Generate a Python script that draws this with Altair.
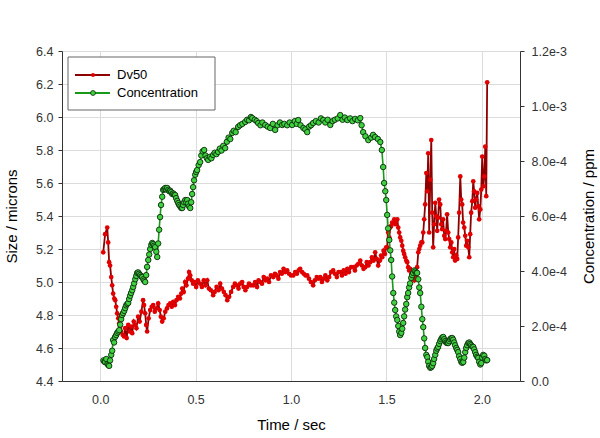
import altair as alt
import pandas as pd

# ---- Dv50 (left axis, microns) ----
dv_t = [0.016, 0.026, 0.037, 0.042, 0.047, 0.052, 0.058, 0.063, 0.068, 0.074, 0.079, 0.084, 0.089, 0.095,
        0.100, 0.105, 0.110, 0.118, 0.125, 0.131, 0.139, 0.147, 0.155, 0.162, 0.168, 0.176, 0.183, 0.190,
        0.199, 0.207, 0.216, 0.225, 0.230, 0.236, 0.241, 0.246, 0.254, 0.262, 0.270, 0.278, 0.286, 0.295,
        0.304, 0.312, 0.318, 0.325, 0.333, 0.341, 0.350, 0.358, 0.367, 0.375, 0.383, 0.392, 0.400, 0.409,
        0.418, 0.425, 0.430, 0.438, 0.445, 0.452, 0.460, 0.466, 0.472, 0.480, 0.487, 0.495, 0.503, 0.512,
        0.524, 0.533, 0.543, 0.552, 0.561, 0.570, 0.580, 0.592, 0.600, 0.610, 0.620, 0.629, 0.638, 0.648,
        0.657, 0.666, 0.676, 0.686, 0.697, 0.706, 0.716, 0.725, 0.734, 0.744, 0.752, 0.761, 0.770, 0.780,
        0.790, 0.802, 0.812, 0.822, 0.830, 0.839, 0.848, 0.857, 0.866, 0.875, 0.885, 0.895, 0.907, 0.916,
        0.925, 0.934, 0.943, 0.952, 0.961, 0.970, 0.980, 0.990, 1.000, 1.012, 1.022, 1.031, 1.040, 1.048,
        1.058, 1.067, 1.076, 1.085, 1.094, 1.104, 1.116, 1.125, 1.135, 1.144, 1.153, 1.162, 1.171, 1.180,
        1.190, 1.200, 1.210, 1.221, 1.230, 1.240, 1.249, 1.258, 1.267, 1.276, 1.286, 1.295, 1.304, 1.315,
        1.326, 1.335, 1.344, 1.353, 1.363, 1.372, 1.380, 1.389, 1.397, 1.406, 1.415, 1.424, 1.433, 1.441,
        1.449, 1.457, 1.466, 1.472, 1.478, 1.485, 1.492, 1.499, 1.504, 1.509, 1.515, 1.520, 1.525, 1.530,
        1.536, 1.541, 1.546, 1.551, 1.557, 1.562, 1.567, 1.572, 1.578, 1.583, 1.588, 1.593, 1.598, 1.604,
        1.609, 1.614, 1.619, 1.624, 1.630, 1.635, 1.640, 1.646, 1.651, 1.656, 1.661, 1.667, 1.672, 1.677,
        1.683, 1.688, 1.693, 1.698, 1.703, 1.709, 1.714, 1.719, 1.724, 1.730, 1.735, 1.740, 1.745, 1.750,
        1.756, 1.761, 1.766, 1.771, 1.776, 1.782, 1.787, 1.792, 1.797, 1.803, 1.808, 1.813, 1.818, 1.824,
        1.829, 1.834, 1.840, 1.845, 1.850, 1.855, 1.860, 1.866, 1.871, 1.876, 1.881, 1.887, 1.892, 1.897,
        1.902, 1.908, 1.913, 1.918, 1.923, 1.929, 1.934, 1.939, 1.944, 1.950, 1.955, 1.960, 1.965, 1.970,
        1.976, 1.981, 1.986, 1.992, 1.997, 2.002, 2.008, 2.013, 2.018, 2.023, 2.028]
dv_v = [5.18, 5.29, 5.33, 5.24, 5.12, 5.10, 5.03, 4.98, 4.93, 4.90, 4.89, 4.85, 4.81, 4.78,
        4.75, 4.73, 4.70, 4.68, 4.67, 4.72, 4.66, 4.74, 4.70, 4.73, 4.69, 4.76, 4.74, 4.72,
        4.79, 4.76, 4.82, 4.89, 4.86, 4.81, 4.74, 4.70, 4.78, 4.83, 4.85, 4.86, 4.82, 4.84,
        4.87, 4.83, 4.79, 4.76, 4.78, 4.82, 4.84, 4.86, 4.87, 4.85, 4.88, 4.86, 4.89, 4.91,
        4.90, 4.93, 4.96, 4.94, 5.00, 4.98, 5.02, 5.06, 5.04, 5.01, 4.99, 5.00, 4.97, 5.01,
        4.99, 4.97, 5.01, 4.98, 5.01, 4.96, 4.95, 4.92, 4.94, 4.97, 4.95, 4.99, 4.96, 4.94,
        4.92, 4.89, 4.91, 4.94, 4.97, 4.99, 4.98, 4.96, 4.99, 5.00, 4.97, 4.95, 4.97, 4.99,
        4.98, 4.98, 5.00, 4.97, 5.01, 5.00, 4.99, 5.03, 5.01, 5.02, 5.00, 5.04, 5.03, 5.05,
        5.04, 5.02, 5.06, 5.05, 5.08, 5.06, 5.07, 5.05, 5.04, 5.04, 5.06, 5.05, 5.07, 5.08,
        5.06, 5.05, 5.04, 5.04, 5.02, 5.00, 4.98, 5.01, 5.03, 5.02, 5.03, 5.00, 5.02, 5.04,
        5.01, 5.03, 5.06, 5.07, 5.05, 5.03, 5.06, 5.06, 5.04, 5.07, 5.05, 5.08, 5.06, 5.09,
        5.09, 5.07, 5.10, 5.11, 5.13, 5.10, 5.08, 5.09, 5.12, 5.10, 5.12, 5.15, 5.13, 5.18,
        5.14, 5.10, 5.13, 5.16, 5.15, 5.19, 5.17, 5.21, 5.21, 5.30, 5.27, 5.33, 5.34, 5.36,
        5.36, 5.38, 5.35, 5.37, 5.38, 5.33, 5.30, 5.27, 5.25, 5.22, 5.19, 5.17, 5.15, 5.13,
        5.12, 5.09, 5.07, 5.08, 5.05, 5.06, 5.03, 5.01, 5.04, 5.06, 5.09, 5.18, 5.20, 5.22,
        5.24, 5.24, 5.30, 5.38, 5.47, 5.66, 5.55, 5.78, 5.30, 5.62, 5.86, 5.42, 5.21, 5.35,
        5.48, 5.40, 5.31, 5.39, 5.50, 5.47, 5.35, 5.32, 5.38, 5.28, 5.26, 5.31, 5.41, 5.30,
        5.26, 5.21, 5.24, 5.18, 5.15, 5.20, 5.13, 5.16, 5.14, 5.27, 5.42, 5.64, 5.50, 5.47,
        5.36, 5.33, 5.28, 5.22, 5.25, 5.21, 5.15, 5.29, 5.42, 5.49, 5.61, 5.55, 5.45, 5.50,
        5.54, 5.46, 5.38, 5.44, 5.56, 5.76, 5.58, 5.64, 5.82, 5.52, 6.21]

# ---- Concentration (right axis, in units of 1e-4 ppm) ----
cn_t = [0.017, 0.022, 0.026, 0.032, 0.038, 0.043, 0.047, 0.052, 0.058, 0.063,
        0.068, 0.073, 0.078, 0.084, 0.089, 0.095, 0.100, 0.105, 0.110, 0.115,
        0.120, 0.126, 0.131, 0.136, 0.142, 0.147, 0.152, 0.157, 0.162, 0.168,
        0.173, 0.178, 0.184, 0.189, 0.194, 0.199, 0.204, 0.210, 0.215, 0.220,
        0.226, 0.231, 0.236, 0.241, 0.246, 0.252, 0.257, 0.262, 0.268, 0.273,
        0.278, 0.283, 0.288, 0.294, 0.299, 0.304, 0.309, 0.314, 0.319, 0.325,
        0.330, 0.336, 0.341, 0.346, 0.351, 0.357, 0.362, 0.367, 0.372, 0.378,
        0.383, 0.388, 0.393, 0.398, 0.404, 0.409, 0.414, 0.420, 0.425, 0.430,
        0.435, 0.440, 0.446, 0.451, 0.456, 0.461, 0.466, 0.472, 0.477, 0.482,
        0.487, 0.492, 0.498, 0.503, 0.508, 0.516, 0.524, 0.530, 0.537, 0.545,
        0.552, 0.559, 0.566, 0.575, 0.583, 0.592, 0.600, 0.609, 0.618, 0.627,
        0.636, 0.645, 0.655, 0.664, 0.673, 0.682, 0.692, 0.700, 0.710, 0.723,
        0.733, 0.745, 0.760, 0.770, 0.780, 0.790, 0.797, 0.810, 0.820, 0.828,
        0.840, 0.850, 0.865, 0.878, 0.891, 0.905, 0.917, 0.930, 0.942, 0.954,
        0.965, 0.980, 0.993, 1.006, 1.020, 1.030, 1.038, 1.050, 1.065, 1.075,
        1.085, 1.095, 1.105, 1.116, 1.130, 1.145, 1.157, 1.169, 1.180, 1.192,
        1.206, 1.218, 1.230, 1.245, 1.258, 1.270, 1.282, 1.295, 1.310, 1.322,
        1.336, 1.350, 1.363, 1.370, 1.378, 1.390, 1.405, 1.420, 1.430, 1.441,
        1.455, 1.468, 1.476, 1.483, 1.488, 1.494, 1.499, 1.504, 1.509, 1.515,
        1.520, 1.525, 1.530, 1.536, 1.541, 1.546, 1.551, 1.557, 1.562, 1.567,
        1.572, 1.578, 1.583, 1.588, 1.593, 1.598, 1.604, 1.609, 1.614, 1.619,
        1.624, 1.630, 1.635, 1.640, 1.646, 1.651, 1.656, 1.661, 1.667, 1.672,
        1.677, 1.683, 1.688, 1.693, 1.698, 1.703, 1.709, 1.714, 1.719, 1.724,
        1.730, 1.735, 1.740, 1.745, 1.750, 1.756, 1.761, 1.766, 1.771, 1.776,
        1.782, 1.787, 1.792, 1.798, 1.803, 1.808, 1.813, 1.818, 1.824, 1.829,
        1.834, 1.840, 1.845, 1.850, 1.855, 1.860, 1.866, 1.871, 1.876, 1.881,
        1.887, 1.892, 1.897, 1.903, 1.908, 1.913, 1.918, 1.923, 1.929, 1.934,
        1.939, 1.944, 1.950, 1.955, 1.960, 1.965, 1.970, 1.976, 1.981, 1.986,
        1.992, 1.997, 2.002, 2.007, 2.013, 2.018, 2.023, 2.028]
cn_v = [0.75, 0.70, 0.69, 0.80, 0.62, 0.58, 0.55, 0.75, 0.95, 1.10,
        1.49, 1.40, 1.60, 1.67, 1.75, 1.80, 1.85, 2.05, 2.25, 2.40,
        2.47, 2.55, 2.65, 2.75, 2.80, 2.84, 2.98, 3.10, 3.20, 3.30,
        3.42, 3.55, 3.70, 3.82, 3.93, 3.95, 3.90, 3.85, 3.80, 3.78,
        3.70, 3.65, 3.60, 3.85, 4.15, 4.40, 4.60, 4.80, 4.95, 5.02,
        4.98, 4.92, 4.87, 4.70, 4.51, 5.00, 5.50, 5.96, 6.40, 6.70,
        6.95, 6.98, 7.02, 6.96, 7.02, 6.95, 6.90, 6.92, 6.87, 6.80,
        6.82, 6.78, 6.76, 6.65, 6.55, 6.47, 6.40, 6.35, 6.29, 6.29,
        6.40, 6.50, 6.58, 6.50, 6.58, 6.45, 6.35, 6.29, 6.50, 6.80,
        7.05, 7.30, 7.50, 7.60, 7.67, 7.85, 7.96, 8.20, 8.35, 8.40,
        8.20, 8.10, 8.04, 8.15, 8.10, 8.22, 8.30, 8.25, 8.33, 8.45,
        8.38, 8.55, 8.47, 8.70, 8.85, 8.80, 9.02, 9.10, 9.05, 9.24,
        9.30, 9.35, 9.42, 9.50, 9.48, 9.60, 9.56, 9.50, 9.45, 9.38,
        9.30, 9.40, 9.31, 9.25, 9.20, 9.35, 9.13, 9.30, 9.40, 9.31,
        9.35, 9.30, 9.40, 9.31, 9.45, 9.35, 9.49, 9.30, 9.20, 9.15,
        9.05, 9.25, 9.30, 9.38, 9.45, 9.40, 9.55, 9.49, 9.40, 9.50,
        9.31, 9.45, 9.50, 9.55, 9.67, 9.50, 9.58, 9.49, 9.55, 9.45,
        9.53, 9.48, 9.56, 9.30, 9.05, 8.90, 8.76, 8.85, 8.95, 8.87,
        8.80, 8.69, 8.40, 7.78, 7.20, 6.90, 6.58, 6.04, 5.55, 5.13,
        4.75, 4.40, 3.80, 3.20, 2.85, 2.58, 2.35, 2.22, 2.00, 1.80,
        1.67, 1.75, 1.90, 2.11, 2.35, 2.60, 2.80, 3.05, 3.20, 3.40,
        3.55, 3.75, 3.85, 3.93, 4.02, 3.98, 3.93, 3.93, 3.70, 3.40,
        3.20, 2.70, 2.25, 1.96, 1.55, 1.20, 0.95, 0.87, 0.70, 0.55,
        0.48, 0.50, 0.55, 0.65, 0.80, 0.95, 1.10, 1.18, 1.24, 1.35,
        1.45, 1.52, 1.58, 1.60, 1.52, 1.45, 1.40, 1.38, 1.38, 1.45,
        1.52, 1.56, 1.56, 1.50, 1.40, 1.30, 1.20, 1.13, 1.05, 0.90,
        0.80, 0.70, 0.66, 0.69, 0.85, 1.05, 1.20, 1.30, 1.38, 1.40,
        1.35, 1.30, 1.25, 1.24, 1.15, 1.05, 0.95, 0.88, 0.84, 0.70,
        0.60, 0.65, 0.85, 0.95, 0.92, 0.80, 0.75, 0.76]

legend_labels = ["Dv50", "Concentration"]
size_ticks = [4.4, 4.6, 4.8, 5.0, 5.2, 5.4, 5.6, 5.8, 6.0, 6.2, 6.4]
conc_ticks = [0, 2e-4, 4e-4, 6e-4, 8e-4, 1e-3, 1.2e-3]
time_ticks = [0.0, 0.5, 1.0, 1.5, 2.0]

MARGIN_L, MARGIN_T = 62, 51
W, H = 458, 330

n_dv = min(len(dv_t), len(dv_v))
n_cn = min(len(cn_t), len(cn_v))
dv = pd.DataFrame({"t": dv_t[:n_dv], "v": dv_v[:n_dv]})
cn = pd.DataFrame({"t": cn_t[:n_cn], "c": [v * 1e-4 for v in cn_v[:n_cn]]})

FONT = "Liberation Sans"
RED_LINE, RED_PT = "#8e0000", "#e00000"
GRN_LINE, GRN_PT, GRN_EDGE = "#179a17", "#3fd13f", "#0b2a0b"
RED_SIZE, GRN_SIZE = 22, 30

X_ENC = alt.X("t:Q", scale=alt.Scale(domain=[-0.2, 2.2], nice=False, zero=False),
              axis=alt.Axis(title="Time / sec", values=time_ticks, format=".1f",
                            ticks=False, labelPadding=12, titlePadding=12, grid=True,
                            gridColor="#dcdcdc", domainColor="#333333", labelColor="#333333",
                            labelFontSize=12.5, titleFontSize=15, titleFontWeight="normal",
                            labelFont=FONT, titleFont=FONT, labelOverlap=False))

Y_LEFT = alt.Y("v:Q", scale=alt.Scale(domain=[4.4, 6.4], nice=False, zero=False),
               axis=alt.Axis(title="Size / microns", values=size_ticks, tickCount=11,
                             labelOverlap=False, format=".1f", tickSize=4, tickColor="#333333",
                             domainColor="#333333", labelPadding=5, titlePadding=16, grid=True,
                             gridColor="#dcdcdc", labelColor="#333333", labelFontSize=12.5,
                             titleFontSize=15, titleFontWeight="normal", labelFont=FONT,
                             titleFont=FONT))

Y_RIGHT = alt.Y("c:Q", scale=alt.Scale(domain=[0, 1.2e-3], nice=False, zero=False),
                axis=alt.Axis(title="Concentration / ppm", orient="right", titleAngle=270,
                              values=conc_ticks, tickCount=7, labelOverlap=False,
                              labelExpr="datum.value == 0 ? '0.0' : format(datum.value, '.1e')",
                              tickSize=4, tickColor="#333333", domainColor="#333333",
                              labelPadding=7, titlePadding=30, grid=False,
                              labelColor="#333333", labelFontSize=12.5, titleFontSize=15,
                              titleFontWeight="normal", labelFont=FONT, titleFont=FONT))

red_line = alt.Chart(dv).mark_line(color=RED_LINE, strokeWidth=1.8).encode(
    x=X_ENC, y=Y_LEFT, order="t:Q")
red_pts = alt.Chart(dv).mark_circle(color=RED_PT, size=RED_SIZE, opacity=1).encode(x=X_ENC, y=Y_LEFT)
left = alt.layer(red_line, red_pts)

green_line = alt.Chart(cn).mark_line(color=GRN_LINE, strokeWidth=1.6).encode(
    x=X_ENC, y=Y_RIGHT, order="t:Q")
green_pts = alt.Chart(cn).mark_point(filled=True, fill=GRN_PT, stroke=GRN_EDGE,
                                     strokeWidth=0.9, size=GRN_SIZE, shape="circle", opacity=1).encode(
    x=X_ENC, y=Y_RIGHT)
right = alt.layer(green_line, green_pts)

# legend (drawn in pixel space of the plot area)
one = pd.DataFrame({"a": [0]})
leg_box = alt.Chart(one).mark_rect(fill="white", stroke="#666666", strokeWidth=1).encode(
    x=alt.value(6), x2=alt.value(153), y=alt.value(6), y2=alt.value(59))
leg_l1 = alt.Chart(one).mark_rule(color=RED_LINE, strokeWidth=2).encode(
    x=alt.value(13), x2=alt.value(48), y=alt.value(24))
leg_l2 = alt.Chart(one).mark_rule(color=GRN_LINE, strokeWidth=2).encode(
    x=alt.value(13), x2=alt.value(48), y=alt.value(42))
leg_p1 = alt.Chart(one).mark_circle(color=RED_PT, size=16, opacity=1).encode(
    x=alt.value(31), y=alt.value(24))
leg_p2 = alt.Chart(one).mark_point(filled=True, fill=GRN_PT, stroke=GRN_EDGE, strokeWidth=0.8,
                                   size=24, opacity=1).encode(x=alt.value(31), y=alt.value(42))
leg_t1 = alt.Chart(one).mark_text(align="left", baseline="middle", fontSize=13, font=FONT,
                                  color="black", text=legend_labels[0]).encode(
    x=alt.value(55), y=alt.value(24))
leg_t2 = alt.Chart(one).mark_text(align="left", baseline="middle", fontSize=13, font=FONT,
                                  color="black", text=legend_labels[1]).encode(
    x=alt.value(55), y=alt.value(42))

legend = alt.layer(leg_box, leg_l1, leg_l2, leg_p1, leg_p2, leg_t1, leg_t2)

chart = alt.layer(left, right, legend).resolve_scale(y="independent").properties(
    width=W, height=H,
    autosize=alt.AutoSizeParams(type="none"),
    padding={"left": MARGIN_L, "top": MARGIN_T, "right": 600 - MARGIN_L - W,
             "bottom": 438 - MARGIN_T - H},
).configure_view(stroke="#999999", strokeWidth=1).configure(background="white")

chart.save("out.html", embed_options={"renderer": "svg", "actions": False})
